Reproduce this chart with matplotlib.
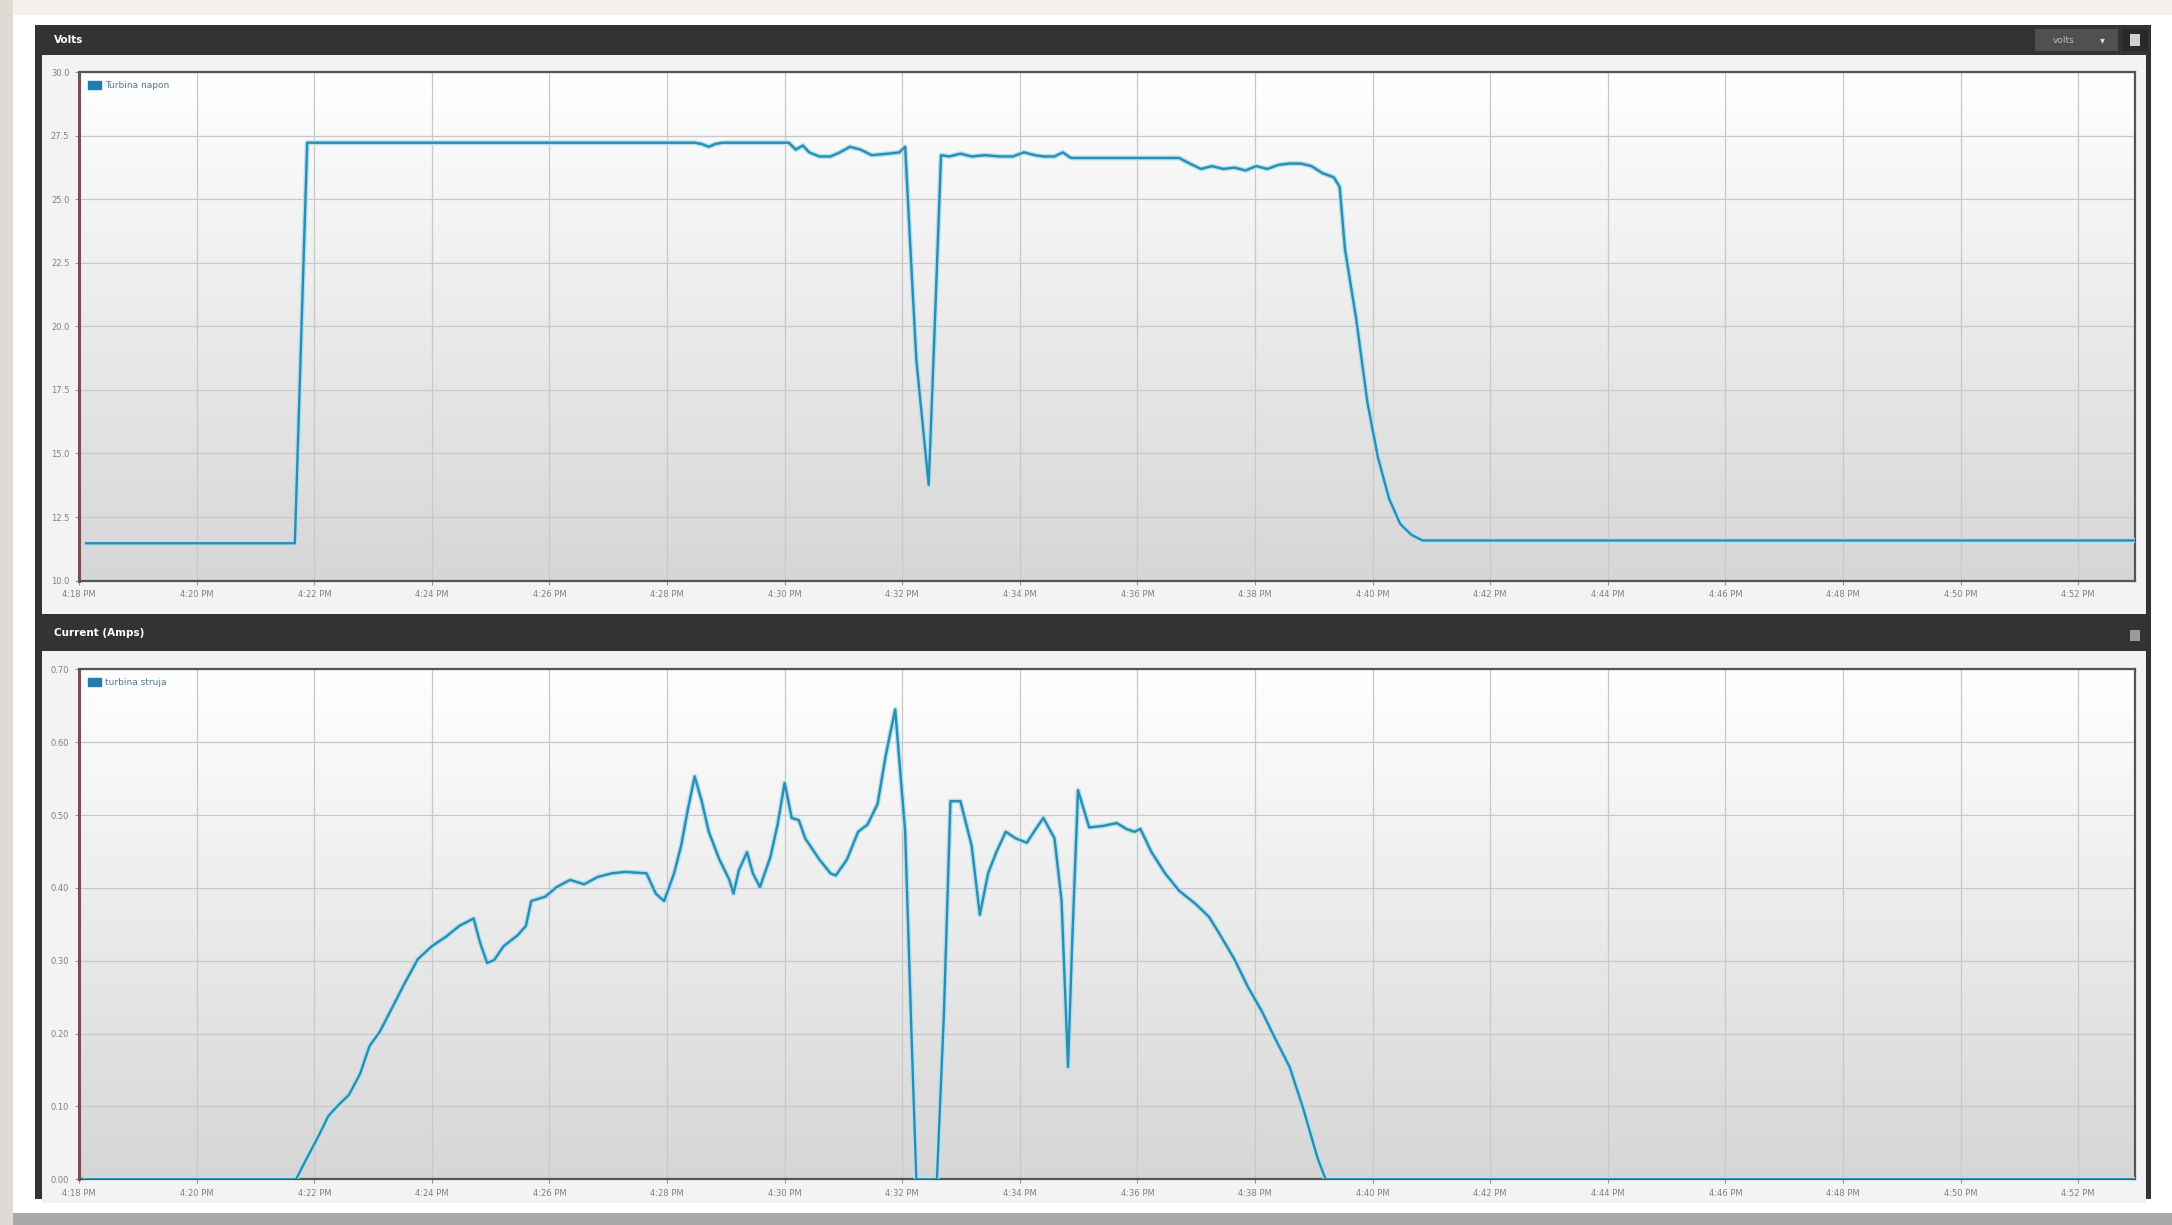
import numpy as np
import matplotlib
matplotlib.use('Agg')
import matplotlib.pyplot as plt
from matplotlib.patches import Rectangle, Patch
from matplotlib.colors import LinearSegmentedColormap

# minutes after 4:00 PM
volt_time = [18.12, 21.67, 21.88, 28.47, 28.59, 28.71, 28.82, 28.94, 30.07, 30.19, 30.31, 30.42,
             30.59, 30.78, 30.94, 31.11, 31.29, 31.48, 31.76, 31.95, 32.05, 32.14, 32.24, 32.45,
             32.54, 32.66, 32.80, 32.99, 33.18, 33.41, 33.65, 33.88, 34.07, 34.26, 34.40, 34.59,
             34.73, 34.87, 36.71, 36.89, 37.08, 37.27, 37.46, 37.65, 37.84, 38.02, 38.21, 38.40,
             38.59, 38.78, 38.96, 39.15, 39.34, 39.44, 39.53, 39.72, 39.91, 40.09, 40.28, 40.47,
             40.66, 40.85, 52.96]
volt_vals = [11.47, 11.47, 27.22, 27.22, 27.17, 27.06, 27.17, 27.22, 27.22, 26.95, 27.11, 26.84,
             26.68, 26.68, 26.84, 27.06, 26.95, 26.73, 26.79, 26.84, 27.06, 23.03, 18.67, 13.76,
             19.21, 26.73, 26.68, 26.79, 26.68, 26.73, 26.68, 26.68, 26.84, 26.73, 26.68, 26.68,
             26.84, 26.62, 26.62, 26.40, 26.19, 26.30, 26.19, 26.24, 26.13, 26.30, 26.19, 26.35,
             26.40, 26.40, 26.30, 26.02, 25.86, 25.48, 23.03, 20.30, 17.03, 14.85, 13.22, 12.23,
             11.80, 11.58, 11.58]

amp_time = [18.12, 21.69, 21.88, 22.07, 22.24, 22.40, 22.59, 22.78, 22.94, 23.11, 23.29, 23.53,
            23.76, 24.00, 24.24, 24.47, 24.71, 24.82, 24.94, 25.06, 25.22, 25.46, 25.60, 25.69,
            25.93, 26.12, 26.35, 26.59, 26.82, 27.06, 27.29, 27.65, 27.81, 27.95, 28.12, 28.24,
            28.35, 28.47, 28.59, 28.71, 28.89, 29.06, 29.13, 29.22, 29.36, 29.46, 29.58, 29.76,
            29.88, 30.00, 30.12, 30.24, 30.35, 30.59, 30.78, 30.87, 31.06, 31.25, 31.41, 31.58,
            31.72, 31.88, 32.05, 32.16, 32.24, 32.59, 32.71, 32.82, 32.99, 33.18, 33.32, 33.46,
            33.60, 33.76, 33.93, 34.12, 34.24, 34.40, 34.59, 34.71, 34.82, 34.89, 34.99, 35.06,
            35.18, 35.41, 35.65, 35.81, 35.95, 36.05, 36.24, 36.47, 36.71, 36.99, 37.22, 37.41,
            37.65, 37.88, 38.12, 38.35, 38.59, 38.82, 39.06, 39.20, 52.96]
amp_vals = [0.0, 0.0, 0.030, 0.059, 0.087, 0.101, 0.116, 0.145, 0.183, 0.202, 0.230, 0.268,
            0.302, 0.320, 0.333, 0.348, 0.358, 0.325, 0.297, 0.301, 0.320, 0.335, 0.348, 0.382,
            0.388, 0.401, 0.411, 0.405, 0.415, 0.420, 0.422, 0.420, 0.392, 0.382, 0.420, 0.458,
            0.506, 0.553, 0.519, 0.477, 0.439, 0.411, 0.392, 0.424, 0.449, 0.420, 0.401, 0.443,
            0.487, 0.544, 0.496, 0.493, 0.468, 0.439, 0.420, 0.417, 0.439, 0.477, 0.487, 0.515,
            0.582, 0.645, 0.477, 0.192, 0.0, 0.0, 0.230, 0.519, 0.519, 0.458, 0.363, 0.420,
            0.449, 0.477, 0.468, 0.462, 0.477, 0.496, 0.468, 0.382, 0.154, 0.325, 0.534, 0.515,
            0.483, 0.485, 0.489, 0.481, 0.477, 0.481, 0.449, 0.420, 0.396, 0.378, 0.360, 0.335,
            0.302, 0.264, 0.230, 0.192, 0.154, 0.097, 0.030, 0.0, 0.0]

x_ticks = list(range(18, 53, 2))
x_labels = ['4:%02d PM' % m for m in x_ticks]
volt_ticks = [10.0, 12.5, 15.0, 17.5, 20.0, 22.5, 25.0, 27.5, 30.0]
amp_ticks = [0.0, 0.1, 0.2, 0.3, 0.4, 0.5, 0.6, 0.7]

line_col = '#2a8db3'
glow_col = '#b2e0ee'

fig = plt.figure(figsize=(21.72, 12.25), dpi=100, facecolor='#f4f1ea')

def frect(x, y, w, h, c, z=0):
    fig.patches.append(Rectangle((x, y), w, h, transform=fig.transFigure,
                                 facecolor=c, edgecolor='none', zorder=z))

# page / card background
frect(0.006, 0.0, 0.994, 0.988, '#ffffff', 0)
frect(0.0, 0.0, 1.0, 0.010, '#a9a9a9', 1)
frect(0.0, 0.0, 0.006, 1.0, '#dedbd4', 1)
# dark frame and panels
frect(0.0159, 0.0215, 0.9745, 0.9581, '#333333', 2)
frect(0.0195, 0.4989, 0.9683, 0.4559, '#f3f3f3', 3)
frect(0.0195, 0.0181, 0.9683, 0.4502, '#f3f3f3', 3)
# header buttons
frect(0.937, 0.958, 0.038, 0.018, '#505050', 4)
frect(0.977, 0.958, 0.012, 0.018, '#2a2a2a', 4)
frect(0.9808, 0.9625, 0.0045, 0.0095, '#d0d0d0', 5)
frect(0.9808, 0.4765, 0.0045, 0.0095, '#9a9a9a', 5)

fig.text(0.025, 0.967, 'Volts', color='white', fontsize=7.5, va='center', fontweight='bold', zorder=10)
fig.text(0.025, 0.4835, 'Current (Amps)', color='white', fontsize=7.5, va='center',
         fontweight='bold', zorder=10)
fig.text(0.950, 0.967, 'volts', color='#bbbbbb', fontsize=6.5, va='center', ha='center', zorder=10)
fig.text(0.968, 0.967, '\u25be', color='#dddddd', fontsize=7, va='center', ha='center', zorder=10)

grad = LinearSegmentedColormap.from_list('g', ['#ffffff', '#d6d6d6'])

def setup(ax, ylim, yticks, ylabels, name):
    ax.imshow(np.linspace(0, 1, 256).reshape(-1, 1), cmap=grad, aspect='auto',
              extent=[0, 1, 0, 1], transform=ax.transAxes, zorder=0)
    ax.set_xlim(18, 52.96)
    ax.set_ylim(*ylim)
    ax.set_xticks(x_ticks)
    ax.set_xticklabels(x_labels)
    ax.set_yticks(yticks)
    ax.set_yticklabels(ylabels)
    ax.grid(True, color='#c8c8c8', linewidth=0.9, zorder=1)
    ax.tick_params(labelsize=6, colors='#808080', length=3, width=0.6, pad=4)
    for s in ['top', 'right', 'bottom']:
        ax.spines[s].set_color('#555555')
        ax.spines[s].set_linewidth(1.6)
    ax.spines['left'].set_color('#7a4f4f')
    ax.spines['left'].set_linewidth(2.2)
    ax.set_facecolor('none')
    leg = ax.legend(handles=[Patch(facecolor='#1f7fb5', edgecolor='#1f7fb5', label=name)],
                    loc='upper left', frameon=False, fontsize=6.5, handlelength=1.4,
                    handleheight=1.0, borderaxespad=0.6, handletextpad=0.5)
    for t in leg.get_texts():
        t.set_color('#4d7a99')

ax1 = fig.add_axes([0.0364, 0.526, 0.9464, 0.4152], zorder=6)
setup(ax1, (10, 30), volt_ticks, ['%.1f' % v for v in volt_ticks], 'Turbina napon')
ax1.plot(volt_time, volt_vals, color=glow_col, linewidth=3.6, zorder=3, solid_joinstyle='round')
ax1.plot(volt_time, volt_vals, color=line_col, linewidth=1.7, zorder=4)

ax2 = fig.add_axes([0.0364, 0.0373, 0.9464, 0.4163], zorder=6)
setup(ax2, (0, 0.7), amp_ticks, ['%.2f' % v for v in amp_ticks], 'turbina struja')
ax2.plot(amp_time, amp_vals, color=glow_col, linewidth=3.6, zorder=3, solid_joinstyle='round')
ax2.plot(amp_time, amp_vals, color=line_col, linewidth=1.7, zorder=4)

fig.savefig('out.png', dpi=100, facecolor=fig.get_facecolor())
